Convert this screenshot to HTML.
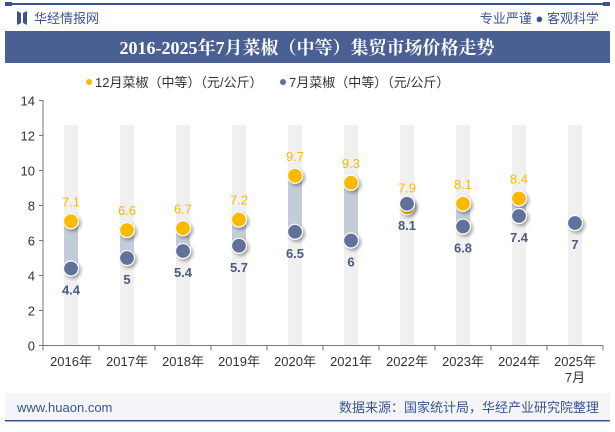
<!DOCTYPE html>
<html><head><meta charset="utf-8"><style>
body{margin:0;width:615px;height:427px;background:#fff;overflow:hidden;font-family:"Liberation Sans","Noto Sans CJK SC",sans-serif}
</style></head><body>
<svg width="615" height="427" xmlns="http://www.w3.org/2000/svg" font-family="Liberation Sans, Noto Sans CJK SC, sans-serif">
<rect x="5" y="3" width="605" height="2" fill="#3c5391"/>
<rect x="5" y="2" width="7" height="4" fill="#3c5391"/><rect x="603" y="2" width="7" height="4" fill="#3c5391"/>
<g><path d="M17 11 l4 2 v10 l-4 2z M27 11 l-4 2 v10 l4 2z" fill="#3c5391"/></g>
<text x="34" y="23" font-size="13" fill="#3c5391">华经情报网</text>
<text x="599" y="23" font-size="13" fill="#3c5391" text-anchor="end">专业严谨 ● 客观科学</text>
<rect x="5" y="31" width="605" height="32" fill="#4a5f92"/>
<text x="307" y="54" font-size="18" font-weight="bold" fill="#fff" text-anchor="middle" font-family="Liberation Serif, Noto Serif CJK SC, serif">2016-2025年7月菜椒（中等）集贸市场价格走势</text>
<g>
<circle cx="89" cy="82" r="3" fill="#fbb900"/>
<text x="95" y="87" font-size="13" fill="#333">12月菜椒（中等）（元/公斤）</text>
<circle cx="283" cy="82" r="3" fill="#62719a"/>
<text x="289" y="87" font-size="13" fill="#333">7月菜椒（中等）（元/公斤）</text>
</g>
<rect x="5" y="393" width="605" height="27" fill="#f3f5f9"/>
<rect x="5" y="420" width="605" height="1.5" fill="#3c5391"/>
<text x="17" y="412" font-size="13" fill="#3c5391">www.huaon.com</text>
<text x="599" y="412" font-size="13" fill="#3c5391" text-anchor="end">数据来源：国家统计局，华经产业研究院整理</text>
<g id="plot"></g>
</svg>
<script>
const categories=["2016年","2017年","2018年","2019年","2020年","2021年","2022年","2023年","2024年","2025年"];
const decValues=[7.1,6.6,6.7,7.2,9.7,9.3,7.9,8.1,8.4,null];
const julValues=[4.4,5,5.4,5.7,6.5,6,8.1,6.8,7.4,7];
const yTicks=[0,2,4,6,8,10,12,14];
const NS="http://www.w3.org/2000/svg";
const g=document.getElementById('plot');
const X0=43,X1=603,Y0=345.5,PX=17.5;
const bw=(X1-X0)/categories.length;
const xs=i=>X0+bw*(i+0.5);
const ys=v=>Y0-v*PX;
function mk(t,a,p){const e=document.createElementNS(NS,t);for(const k in a)e.setAttribute(k,a[k]);(p||g).appendChild(e);return e;}
const defs=mk('defs',{});
const f=mk('filter',{id:'sh',x:'-50%',y:'-50%',width:'200%',height:'200%'},defs);
mk('feDropShadow',{dx:'2',dy:'2',stdDeviation:'1.5','flood-color':'#000','flood-opacity':'0.35'},f);
categories.forEach((c,i)=>{
 const r=mk('rect',{x:xs(i)-7,y:ys(12.6),width:14,height:Y0-ys(12.6),fill:'#f0f0f0'});
 
 
});
const ax=mk('line',{x1:X0,y1:100,x2:X0,y2:Y0,stroke:'#777'});


const bx=mk('line',{x1:X0,y1:Y0,x2:X1,y2:Y0,stroke:'#777'});


yTicks.forEach(t=>{
 mk('line',{x1:X0-4,y1:ys(t),x2:X0,y2:ys(t),stroke:'#777'});
 const tx=mk('text',{x:X0-8,y:ys(t)+5,'font-size':13,fill:'#333','text-anchor':'end'});
 tx.textContent=t;
 
 
});
for(let i=0;i<=categories.length;i++)mk('line',{x1:X0+bw*i,y1:Y0,x2:X0+bw*i,y2:Y0+5,stroke:'#777'});
categories.forEach((c,i)=>{
 const tx=mk('text',{x:xs(i),y:366,'font-size':13,fill:'#333','text-anchor':'middle'});
 tx.textContent=c;
 
 
 if(i===categories.length-1){const t2=mk('text',{x:xs(i),y:382,'font-size':13,fill:'#333','text-anchor':'middle'});t2.textContent='7月';}
});
categories.forEach((c,i)=>{
 const d=decValues[i],j=julValues[i];
 if(d!=null&&j!=null){
  const r=mk('rect',{x:xs(i)-7,y:ys(Math.max(d,j)),width:14,height:Math.abs(ys(d)-ys(j)),fill:'#c5cbd9'});
  
  
 }
 if(d!=null){
  const p=mk('circle',{cx:xs(i),cy:ys(d),r:7.5,fill:'#fbb900',stroke:'#fff','stroke-width':1.2,filter:'url(#sh)'});
  
  
  const l=mk('text',{x:xs(i),y:ys(d)-15,'font-size':13,fill:'#fbb900','text-anchor':'middle'});
  l.textContent=d;
  
  
 }
 if(j!=null){
  const p=mk('circle',{cx:xs(i),cy:ys(j),r:7.5,fill:'#62719a',stroke:'#fff','stroke-width':1.2,filter:'url(#sh)'});
  
  
  const l=mk('text',{x:xs(i),y:ys(j)+26,'font-size':13,'font-weight':'bold',fill:'#4e5a82','text-anchor':'middle'});
  l.textContent=j;
  
  
 }
});
</script>
</body></html>
